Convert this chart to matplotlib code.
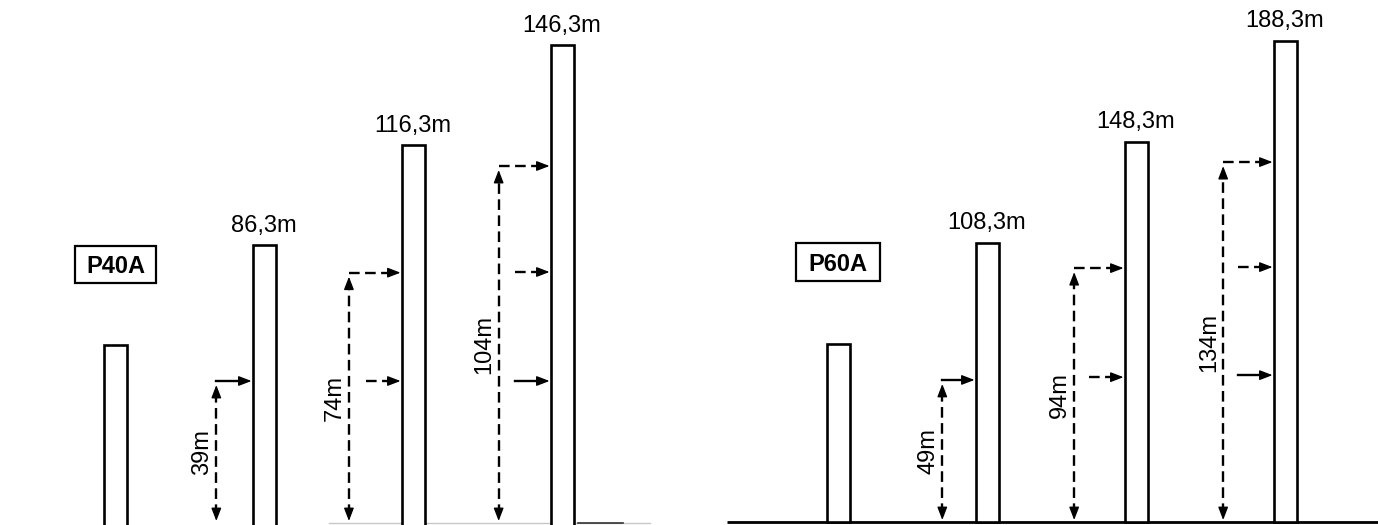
import matplotlib
matplotlib.use('Agg')
import matplotlib.pyplot as plt
from matplotlib.patches import Rectangle

plt.rcParams['font.family'] = ['Liberation Sans', 'DejaVu Sans']

# ---------------- data ----------------
models = ["P40A", "P60A"]
p40_heights = [56.3, 86.3, 116.3, 146.3]
p60_heights = [68.3, 108.3, 148.3, 188.3]
p40_labeled = [False, True, True, True]
p60_labeled = [False, True, True, True]
p40_dims = [None, 39, 74, 104]
p60_dims = [None, 49, 94, 134]
# levels of the side arrows (read on the drawing's own scale, m)
p40_arrow_levels = [[], [45.6], [78.1, 45.6], [110.1, 78.3, 45.6]]
p60_arrow_levels = [[], [53.9], [98.2, 55.0], [140.2, 98.6, 55.8]]

# ---------------- layout / style ----------------
W, H = 1378, 525
fig = plt.figure(figsize=(W / 100, H / 100), dpi=100)
fig.patch.set_facecolor('white')

PX_PER_UNIT = 149.0
BAR_W = 23 / PX_PER_UNIT

panels = [
    dict(rect=[0, 0, 689 / W, 1], xlim=(-115 / PX_PER_UNIT, (689 - 115) / PX_PER_UNIT),
         ylim=(2.4, 159.9), ground=3.0, bar_bottom=0.0,
         heights=p40_heights, labeled=p40_labeled, dims=p40_dims, levels=p40_arrow_levels,
         name=models[0], box=(-0.268, 75.0, 0.544, 11.1),
         dim_off=[0, -0.32, -0.43, -0.425]),
    dict(rect=[689 / W, 0, 689 / W, 1], xlim=(-149 / PX_PER_UNIT, (689 - 149) / PX_PER_UNIT),
         ylim=(-3.56, 204.4), ground=-2.38, bar_bottom=-2.38,
         heights=p60_heights, labeled=p60_labeled, dims=p60_dims, levels=p60_arrow_levels,
         name=models[1], box=(-0.282, 93.1, 0.564, 15.0),
         dim_off=[0, -0.30, -0.415, -0.415]),
]
arrow_styles = [[], ['-'], ['dash', 'dash'], ['dash', 'dash', '-']]
DASH = (0, (4.5, 2.3))
LW = 1.7
HEAD = dict(arrowstyle='-|>,head_length=0.65,head_width=0.25', mutation_scale=12,
            lw=1.0, color='black', shrinkA=0, shrinkB=0)


def head(ax, x, y, dx_pt, dy_pt):
    ax.annotate('', xy=(x, y), xytext=(dx_pt, dy_pt), textcoords='offset points',
                arrowprops=HEAD)


for pi, p in enumerate(panels):
    ax = fig.add_axes(p['rect'])
    ax.set_xlim(*p['xlim'])
    ax.set_ylim(*p['ylim'])
    ax.axis('off')
    ppm = H / (p['ylim'][1] - p['ylim'][0])   # pixels per metre
    hx = 1 / PX_PER_UNIT                       # one pixel in x units

    xs = list(range(len(p['heights'])))
    # ground line
    if pi == 0:
        ax.plot([(329 - 115) * hx, (650 - 115) * hx], [p['ground']] * 2, color='#c8c8c8', lw=1.0)
        ax.plot([(578 - 115) * hx, (623 - 115) * hx], [p['ground']] * 2, color='#333333', lw=1.2)
    else:
        ax.plot([-0.745, p['xlim'][1] + 0.1], [p['ground']] * 2, color='black', lw=2.0,
                solid_capstyle='butt')

    # poles
    ax.bar(xs, [h - p['bar_bottom'] for h in p['heights']], bottom=p['bar_bottom'],
           width=BAR_W, facecolor='white', edgecolor='black', linewidth=1.9, zorder=3)

    # top labels
    for x, h, lab in zip(xs, p['heights'], p['labeled']):
        if lab:
            ax.annotate(f"{h:.1f}".replace('.', ',') + "m", (x, h), xytext=(0, 9.6),
                        textcoords='offset points', ha='center', va='baseline', fontsize=17)

    # side arrows and dimensions
    for i, (x, levels, dim) in enumerate(zip(xs, p['levels'], p['dims'])):
        if not levels:
            continue
        edge = x - BAR_W / 2 - 1 * hx
        xdim = x + p['dim_off'][i]
        for j, lv in enumerate(levels):
            x0 = xdim if j == 0 else x - 47 * hx
            ls = DASH if arrow_styles[i][j] == 'dash' else '-'
            ax.plot([x0, edge - 6 * hx], [lv, lv], color='black', lw=LW, linestyle=ls)
            head(ax, edge, lv, -7.5, 0)
        top = levels[0]
        ytop = top - 4 / ppm
        ybot = p['ground'] + 2 / ppm
        ax.plot([xdim, xdim], [ybot + 6 / ppm, ytop - 6 / ppm], color='black', lw=LW,
                linestyle=DASH)
        head(ax, xdim, ytop, 0, -7.5)
        head(ax, xdim, ybot, 0, 7.5)
        ax.text(xdim - 14 * hx, (top + p['ground']) / 2, f"{dim}m", rotation=90,
                ha='center', va='center', fontsize=17)

    # model box
    bx, by, bw, bh = p['box']
    ax.add_patch(Rectangle((bx, by), bw, bh, facecolor='white', edgecolor='black', lw=1.6,
                           zorder=4))
    ax.text(bx + bw / 2, by + bh / 2 - 8.7 / ppm, p['name'], ha='center', va='baseline',
            fontsize=17, fontweight='bold', zorder=5)

fig.savefig('out.png', dpi=100, facecolor='white')
